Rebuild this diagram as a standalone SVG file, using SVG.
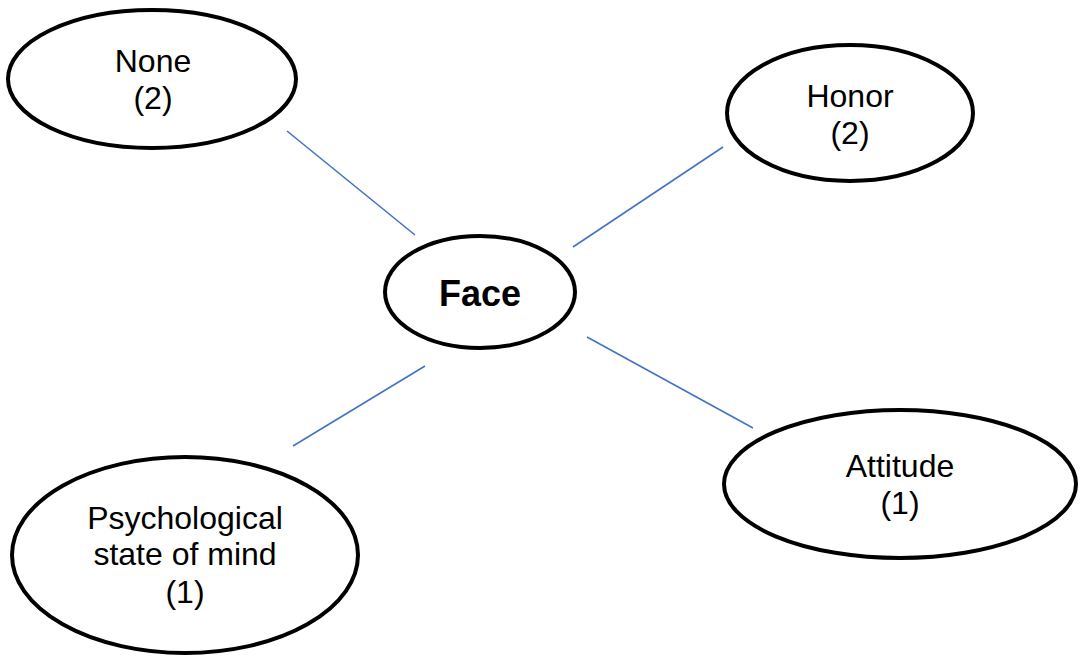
<svg xmlns="http://www.w3.org/2000/svg" width="1081" height="657" viewBox="0 0 1081 657">
  <style>
    .node { fill: #ffffff; stroke: #000000; stroke-width: 4; }
    .label { font-family: "Liberation Sans", Arial, sans-serif; font-size: 32px; fill: #000000; text-anchor: middle; }
    .hub { font-weight: bold; font-size: 36px; }
    .link { stroke: #4472C4; stroke-width: 1.6; fill: none; }
  </style>
  <rect width="1081" height="657" fill="#ffffff"/>

  <!-- connectors from the central node -->
  <g id="connectors">
    <line class="link" x1="287" y1="131" x2="415" y2="235"/>
    <line class="link" x1="573" y1="247" x2="723" y2="147"/>
    <line class="link" x1="587" y1="337" x2="753" y2="428"/>
    <line class="link" x1="425" y1="366" x2="293" y2="446"/>
  </g>

  <g id="node-none">
    <ellipse class="node" cx="152" cy="79" rx="144" ry="69"/>
    <text class="label" x="153" y="72">None</text>
    <text class="label" x="153" y="109">(2)</text>
  </g>

  <g id="node-honor">
    <ellipse class="node" cx="850" cy="113" rx="123" ry="68"/>
    <text class="label" x="850" y="107">Honor</text>
    <text class="label" x="850" y="144">(2)</text>
  </g>

  <g id="node-face">
    <ellipse class="node" cx="480" cy="292" rx="95" ry="56"/>
    <text class="label hub" x="480" y="306">Face</text>
  </g>

  <g id="node-attitude">
    <ellipse class="node" cx="900" cy="484" rx="176" ry="74"/>
    <text class="label" x="900" y="477">Attitude</text>
    <text class="label" x="900" y="514">(1)</text>
  </g>

  <g id="node-psych">
    <ellipse class="node" cx="185" cy="555" rx="173" ry="98"/>
    <text class="label" x="185" y="529">Psychological</text>
    <text class="label" x="185" y="565">state of mind</text>
    <text class="label" x="185" y="603">(1)</text>
  </g>
</svg>
